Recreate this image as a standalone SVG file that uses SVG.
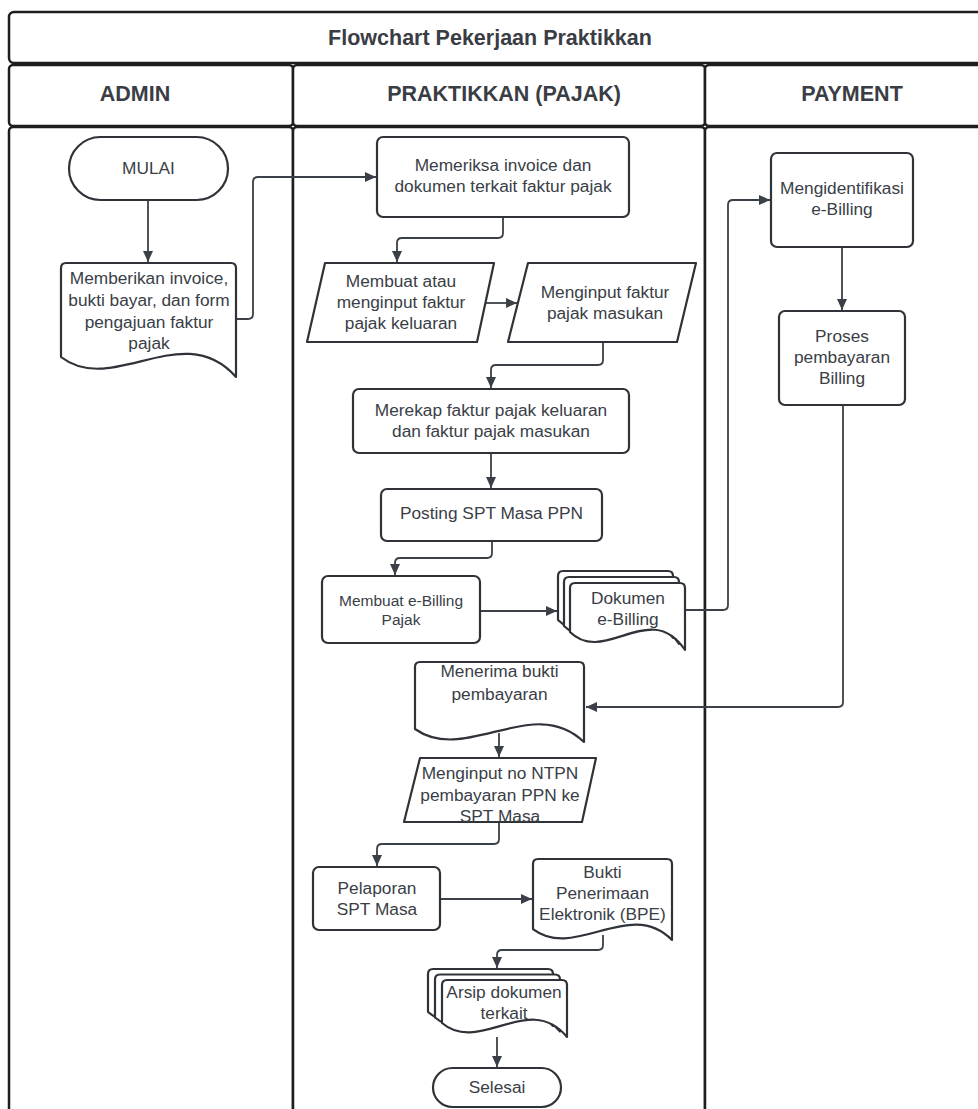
<svg xmlns="http://www.w3.org/2000/svg" width="978" height="1109" viewBox="0 0 978 1109">
<defs>
<style>
.lane{fill:#fff;stroke:#1e1e1e;stroke-width:2.5}
.hd{font-family:"Liberation Sans",Arial,sans-serif;font-weight:bold;fill:#3a3d44;text-anchor:middle}
.nd{fill:#fff;stroke:#2f3238;stroke-width:2.2;stroke-linejoin:round}
.t{font-family:"Liberation Sans",Arial,sans-serif;font-size:17.3px;fill:#3a3e46;text-anchor:middle}
.ts{font-size:15.5px}
.c{fill:none;stroke:#3b4048;stroke-width:1.8;marker-end:url(#ah)}
</style>
<marker id="ah" markerUnits="userSpaceOnUse" markerWidth="11" markerHeight="10" refX="11" refY="5" orient="auto">
<path d="M0,0 L11,5 L0,10 Z" fill="#3b4048"/>
</marker>
</defs>

<g id="lanes">
<rect class="lane" x="9" y="12" width="1010" height="51" rx="5"/>
<rect class="lane" x="9" y="65" width="284" height="61" rx="4"/>
<rect class="lane" x="293" y="65" width="412" height="61" rx="4"/>
<rect class="lane" x="705" y="65" width="314" height="61" rx="4"/>
<rect class="lane" x="9" y="127" width="284" height="1000" rx="4"/>
<rect class="lane" x="293" y="127" width="412" height="1000" rx="4"/>
<rect class="lane" x="705" y="127" width="314" height="1000" rx="4"/>
<text class="hd" x="490" y="44.5" font-size="21.5">Flowchart Pekerjaan Praktikkan</text>
<text class="hd" x="135" y="100.5" font-size="21.5">ADMIN</text>
<text class="hd" x="504" y="100.5" font-size="21.5">PRAKTIKKAN (PAJAK)</text>
<text class="hd" x="852" y="100.5" font-size="21.5">PAYMENT</text>
</g>

<g id="connectors">
<path class="c" d="M148,200 V262"/>
<path class="c" d="M236,319 H248 Q253,319 253,314 V182 Q253,177 258,177 H376"/>
<path class="c" d="M503,217 V233 Q503,238 498,238 H402 Q397,238 397,243 V262"/>
<path class="c" d="M486,303 H517"/>
<path class="c" d="M603,342 V360 Q603,365 598,365 H496 Q491,365 491,370 V388"/>
<path class="c" d="M491,453 V488"/>
<path class="c" d="M492,541 V553 Q492,558 487,558 H400 Q395,558 395,563 V575"/>
<path class="c" d="M480,611 H557"/>
<path class="c" d="M685,610 H723 Q728,610 728,605 V205 Q728,200 733,200 H770"/>
<path class="c" d="M842,247 V310"/>
<path class="c" d="M843,405 V702 Q843,707 838,707 H586"/>
<path class="c" d="M499,733 V757"/>
<path class="c" d="M499,822 V839 Q499,844 494,844 H382 Q377,844 377,849 V866"/>
<path class="c" d="M440,899 H532"/>
<path class="c" d="M603,935 V945 Q603,950 598,950 H502 Q497,950 497,955 V968"/>
<path class="c" d="M497,1037 V1067"/>
</g>

<g id="n-mulai">
<rect class="nd" x="69" y="137" width="159" height="63" rx="31.5"/>
<text class="t" x="148.5" y="174">MULAI</text>
</g>

<g id="n-memberikan">
<path class="nd" d="M61,357 V268 Q61,263 66,263 H231 Q236,263 236,268 V377 C183,317 113,397 61,357 Z"/>
<text class="t" x="149" y="284">Memberikan invoice,</text>
<text class="t" x="149" y="306">bukti bayar, dan form</text>
<text class="t" x="149" y="327.5">pengajuan faktur</text>
<text class="t" x="149" y="348.5">pajak</text>
</g>

<g id="n-memeriksa">
<rect class="nd" x="377" y="137" width="252" height="80" rx="6"/>
<text class="t" x="503" y="171">Memeriksa invoice dan</text>
<text class="t" x="503" y="192">dokumen terkait faktur pajak</text>
</g>

<g id="n-membuat-faktur">
<path class="nd" d="M325,263 H494 L477,342 H307 Z"/>
<text class="t" x="401" y="287">Membuat atau</text>
<text class="t" x="401" y="308">menginput faktur</text>
<text class="t" x="401" y="328.5">pajak keluaran</text>
</g>

<g id="n-input-masukan">
<path class="nd" d="M528,263 H696 L677,342 H508 Z"/>
<text class="t" x="605" y="298">Menginput faktur</text>
<text class="t" x="605" y="319">pajak masukan</text>
</g>

<g id="n-merekap">
<rect class="nd" x="353" y="389" width="276" height="64" rx="6"/>
<text class="t" x="491" y="416">Merekap faktur pajak keluaran</text>
<text class="t" x="491" y="437">dan faktur pajak masukan</text>
</g>

<g id="n-posting">
<rect class="nd" x="381" y="489" width="221" height="52" rx="6"/>
<text class="t" x="491.5" y="519">Posting SPT Masa PPN</text>
</g>

<g id="n-membuat-ebilling">
<rect class="nd" x="322" y="576" width="158" height="67" rx="6"/>
<text class="t ts" x="401" y="606">Membuat e-Billing</text>
<text class="t ts" x="401" y="625">Pajak</text>
</g>

<g id="n-dokumen-ebilling">
<path class="nd" d="M558,620 V576 Q558,571 563,571 H668 Q673,571 673,576 V638 C638.5,586 592.5,654 558,620 Z"/>
<path class="nd" d="M564,626 V582 Q564,577 569,577 H674 Q679,577 679,582 V644 C644.5,592 598.5,660 564,626 Z"/>
<path class="nd" d="M570,632 V588 Q570,583 575,583 H680 Q685,583 685,588 V650 C650.5,598 604.5,666 570,632 Z"/>
<text class="t" x="628" y="604">Dokumen</text>
<text class="t" x="628" y="625">e-Billing</text>
</g>

<g id="n-mengidentifikasi">
<rect class="nd" x="771" y="153" width="142" height="94" rx="6"/>
<text class="t" x="842" y="194">Mengidentifikasi</text>
<text class="t" x="842" y="215">e-Billing</text>
</g>

<g id="n-proses">
<rect class="nd" x="779" y="311" width="126" height="94" rx="6"/>
<text class="t" x="842" y="342">Proses</text>
<text class="t" x="842" y="363">pembayaran</text>
<text class="t" x="842" y="384">Billing</text>
</g>

<g id="n-menerima">
<path class="nd" d="M415,729 V667 Q415,662 420,662 H579 Q584,662 584,667 V742 C533,693 466,765 415,729 Z"/>
<text class="t" x="499.5" y="677">Menerima bukti</text>
<text class="t" x="499.5" y="700">pembayaran</text>
</g>

<g id="n-ntpn">
<path class="nd" d="M420,758 H596 L582,822 H404 Z"/>
<text class="t" x="500" y="779">Menginput no NTPN</text>
<text class="t" x="500" y="801">pembayaran PPN ke</text>
<text class="t" x="500" y="822">SPT Masa</text>
</g>

<g id="n-pelaporan">
<rect class="nd" x="313" y="867" width="127" height="63" rx="6"/>
<text class="t" x="377" y="894">Pelaporan</text>
<text class="t" x="377" y="915">SPT Masa</text>
</g>

<g id="n-bpe">
<path class="nd" d="M533,929 V864 Q533,859 538,859 H667 Q672,859 672,864 V940 C630,897 575,961 533,929 Z"/>
<text class="t" x="602.5" y="878">Bukti</text>
<text class="t" x="602.5" y="899">Penerimaan</text>
<text class="t" x="602.5" y="920">Elektronik (BPE)</text>
</g>

<g id="n-arsip">
<path class="nd" d="M428,1012 V974 Q428,969 433,969 H548 Q553,969 553,974 V1026 C515.5,980 465.5,1044 428,1012 Z"/>
<path class="nd" d="M435,1017.5 V979.5 Q435,974.5 440,974.5 H555 Q560,974.5 560,979.5 V1031.5 C522.5,985.5 472.5,1049.5 435,1017.5 Z"/>
<path class="nd" d="M442,1023 V985 Q442,980 447,980 H562 Q567,980 567,985 V1037 C529.5,991 479.5,1055 442,1023 Z"/>
<text class="t" x="504" y="998">Arsip dokumen</text>
<text class="t" x="504" y="1019">terkait</text>
</g>

<g id="n-selesai">
<rect class="nd" x="433" y="1068" width="128" height="39" rx="19.5"/>
<text class="t" x="497" y="1093">Selesai</text>
</g>
</svg>
